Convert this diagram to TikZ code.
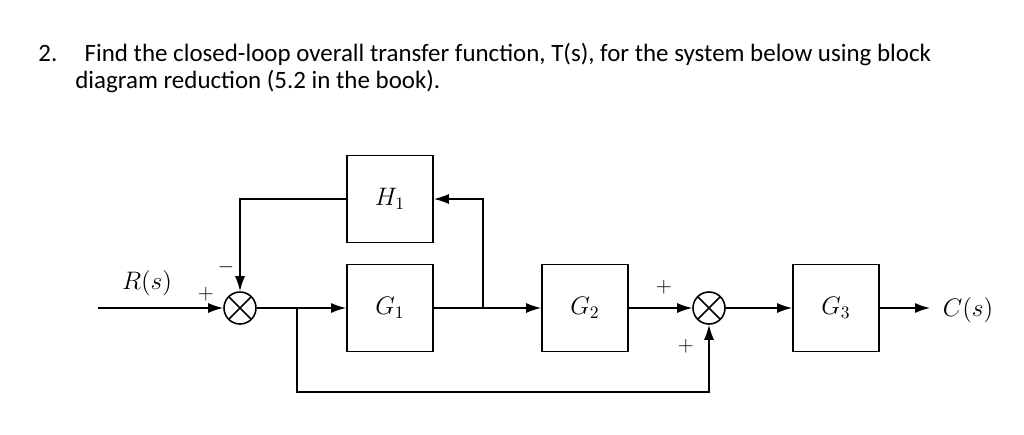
\documentclass[tikz,border=0pt]{standalone}
\usepackage{fontspec}
\setmainfont{Carlito}
\usetikzlibrary{arrows.meta}
\begin{document}
\begin{tikzpicture}[x=0.02cm,y=-0.02cm,
  blk/.style={draw,line width=1pt,minimum width=1.72cm,minimum height=1.74cm,font=\Large},
  sum/.style={draw,line width=0.9pt,circle,minimum size=0.64cm,inner sep=0pt,path picture={\draw[line width=0.9pt] (path picture bounding box.north west)--(path picture bounding box.south east) (path picture bounding box.north east)--(path picture bounding box.south west);}},
  sg/.style={font=\large},
  ln/.style={line width=0.8pt},
  ar/.style={ln,-{Latex[length=3mm,width=2mm]}}]
\useasboundingbox (0,0) rectangle (1024,434);
\node[anchor=west,font=\fontsize{14.2}{17}\selectfont,inner sep=0pt] (t1) at (38,55) {2.\hspace{1.1em}Find the closed-loop overall transfer function, T(s), for the system below using block};
\node[anchor=west,font=\fontsize{14.2}{17}\selectfont,inner sep=0pt] (t2) at (75,82) {diagram reduction (5.2 in the book).};
\node[blk] (h1) at (390,199) {$H_1$};
\node[blk] (g1) at (390,308) {$G_1$};
\node[blk] (g2) at (585,308) {$G_2$};
\node[blk] (g3) at (836,308) {$G_3$};
\node[sum] (s1) at (240,308) {};
\node[sum] (s2) at (709,308) {};
\coordinate (in) at (98,308);
\coordinate (out) at (930,308);
\coordinate (b1) at (297,308);
\coordinate (b2) at (483,308);
\node[font=\Large] (r) at (147,283) {$R(s)$};
\node[font=\Large] (c) at (968,310) {$C(s)$};
\node[sg] (p1) at (206,294) {$+$};
\node[sg] (m1) at (226,267) {$-$};
\node[sg] (p2) at (664,287) {$+$};
\node[sg] (p3) at (686,346) {$+$};
\draw[ar] (in) -- (s1);
\draw[ar] (s1) -- (g1);
\draw[ar] (g1) -- (g2);
\draw[ar] (g2) -- (s2);
\draw[ar] (s2) -- (g3);
\draw[ar] (g3) -- (out);
\draw[ar] (b2) |- (h1.east);
\draw[ar] (h1.west) -| (s1.north);
\draw[ar] (b1) -- (297,392) -| (s2.south);
\end{tikzpicture}
\end{document}
